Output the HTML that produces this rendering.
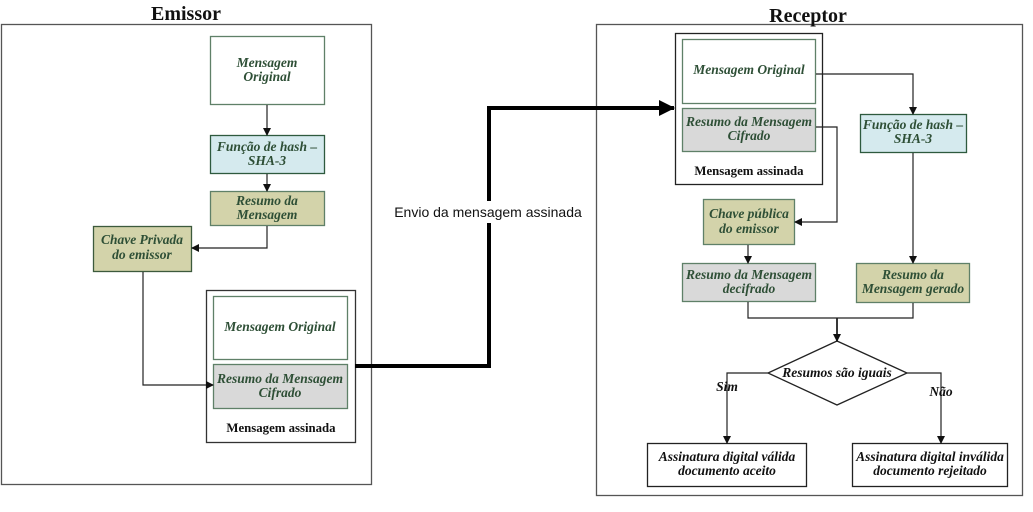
<!DOCTYPE html>
<html><head><meta charset="utf-8"><style>
body{margin:0;background:#fff}
svg text{font-family:"Liberation Serif",serif;font-weight:bold;font-style:italic;fill:#2e4f36;font-size:13.5px;text-anchor:middle}
svg text.b{font-style:normal;fill:#111;font-size:12.8px}
</style></head><body>
<svg width="1033" height="507" viewBox="0 0 1033 507" xmlns="http://www.w3.org/2000/svg">
<defs>
<marker id="a" markerWidth="8" markerHeight="8" refX="7" refY="4" orient="auto" markerUnits="userSpaceOnUse"><path d="M0,0 L8,4 L0,8z" fill="#111"/></marker>
<marker id="big" markerWidth="16" markerHeight="16" refX="15" refY="8" orient="auto" markerUnits="userSpaceOnUse"><path d="M0,0 L16,8 L0,16z" fill="#000"/></marker>
</defs>
<g fill="none" stroke="#555" stroke-width="1.3">
<rect x="1.5" y="24.5" width="370" height="460"/>
<rect x="596.5" y="24.5" width="426" height="471"/>
</g>
<text class="b" x="186" y="20" style="font-size:20px">Emissor</text>
<text class="b" x="808" y="22" style="font-size:20px">Receptor</text>
<g stroke="#5f8068" stroke-width="1.3">
<rect x="210.5" y="36.5" width="114" height="68" fill="#fff"/>
<rect x="210.5" y="135.5" width="114" height="38" fill="#d5eaee" stroke="#2e5a3e"/>
<rect x="210.5" y="191.5" width="114" height="34" fill="#d3d3aa"/>
<rect x="93.5" y="226.5" width="98" height="45" fill="#d3d3aa" stroke="#3c5a3c"/>
<rect x="206.5" y="290.5" width="149" height="152" fill="#fff" stroke="#333"/>
<rect x="213.5" y="296.5" width="134" height="63" fill="#fff"/>
<rect x="213.5" y="364.5" width="134" height="44" fill="#d9d9d9"/>
<rect x="675.5" y="33.5" width="147" height="151" fill="#fff" stroke="#222"/>
<rect x="682.5" y="39.5" width="133" height="64" fill="#fff"/>
<rect x="682.5" y="108.5" width="133" height="43" fill="#d9d9d9"/>
<rect x="860.5" y="114.5" width="106" height="38" fill="#d5eaee" stroke="#2e5a3e"/>
<rect x="703.5" y="199.5" width="91" height="45" fill="#d3d3aa"/>
<rect x="682.5" y="263.5" width="133" height="38" fill="#d9d9d9"/>
<rect x="856.5" y="263.5" width="113" height="39" fill="#d3d3aa"/>
<rect x="647.5" y="443.5" width="159" height="43" fill="#fff" stroke="#222"/>
<rect x="852.5" y="443.5" width="155" height="43" fill="#fff" stroke="#222"/>
<path d="M837,341 L907,373 L837,405 L768,373z" fill="#fff" stroke="#222"/>
</g>
<g fill="none" stroke="#222" stroke-width="1.2">
<path d="M267,105 V135" marker-end="url(#a)"/>
<path d="M267,174 V191" marker-end="url(#a)"/>
<path d="M267,226 V248 H192" marker-end="url(#a)"/>
<path d="M143,272 V385 H213" marker-end="url(#a)"/>
<path d="M816,74 H913 V114" marker-end="url(#a)"/>
<path d="M816,127 H837 V222 H795" marker-end="url(#a)"/>
<path d="M748,245 V263" marker-end="url(#a)"/>
<path d="M913,153 V263" marker-end="url(#a)"/>
<path d="M748,302 V318 H913 V303"/>
<path d="M837,318 V341" marker-end="url(#a)" stroke-width="1.8"/>
<path d="M768,373 H727 V443" marker-end="url(#a)"/>
<path d="M907,373 H941 V443" marker-end="url(#a)"/>
<path d="M355,366 H489 V108 H674" stroke="#000" stroke-width="4" marker-end="url(#big)"/>
</g>
<rect x="390" y="201" width="196" height="22" fill="#fff"/>
<text x="267" y="67">Mensagem</text><text x="267" y="81">Original</text>
<text x="267" y="151">Função de hash –</text><text x="267" y="165">SHA-3</text>
<text x="267" y="205">Resumo da</text><text x="267" y="219">Mensagem</text>
<text x="142" y="244">Chave Privada</text><text x="142" y="259">do emissor</text>
<text x="280" y="331">Mensagem Original</text>
<text x="280" y="383">Resumo da Mensagem</text><text x="280" y="397">Cifrado</text>
<text class="b" x="281" y="432">Mensagem assinada</text>
<text x="749" y="74">Mensagem Original</text>
<text x="749" y="126">Resumo da Mensagem</text><text x="749" y="140">Cifrado</text>
<text class="b" x="749" y="175">Mensagem assinada</text>
<text x="913" y="129">Função de hash –</text><text x="913" y="143">SHA-3</text>
<text x="749" y="218">Chave pública</text><text x="749" y="233">do emissor</text>
<text x="749" y="279">Resumo da Mensagem</text><text x="749" y="293">decifrado</text>
<text x="913" y="279">Resumo da</text><text x="913" y="293">Mensagem gerado</text>
<text x="837" y="377" style="fill:#111">Resumos são iguais</text>
<text x="727" y="391" style="fill:#111">Sim</text>
<text x="941" y="396" style="fill:#111">Não</text>
<text x="727" y="461" style="fill:#111">Assinatura digital válida</text><text x="727" y="475" style="fill:#111">documento aceito</text>
<text x="930" y="461" style="fill:#111">Assinatura digital inválida</text><text x="930" y="475" style="fill:#111">documento rejeitado</text>
<text x="488" y="217" style="font-family:'Liberation Sans',sans-serif;font-weight:normal;font-style:normal;fill:#111;font-size:14px">Envio da mensagem assinada</text>
</svg>
</body></html>
